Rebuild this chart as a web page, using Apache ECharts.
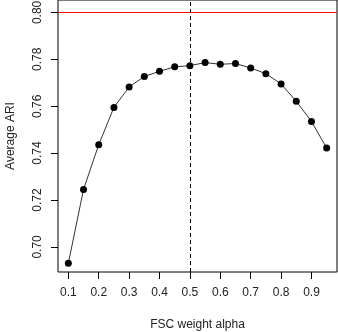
<!DOCTYPE html>
<html>
<head>
<meta charset="utf-8">
<script src="https://cdn.jsdelivr.net/npm/echarts@6/dist/echarts.min.js"></script>
<style>
  html, body { margin: 0; padding: 0; background: #fff; }
  #main { width: 338px; height: 332px; }
</style>
</head>
<body>
<div id="main"></div>
<script>
// FSC weight alpha vs average ARI
const alpha = [0.1, 0.15, 0.2, 0.25, 0.3, 0.35, 0.4, 0.45, 0.5, 0.55, 0.6, 0.65, 0.7, 0.75, 0.8, 0.85, 0.9, 0.95];
const ari = [0.6930, 0.7245, 0.7436, 0.7595, 0.7682, 0.7727, 0.7749, 0.7768, 0.7773, 0.7786, 0.7779, 0.7782, 0.7763, 0.7739, 0.7695, 0.7621, 0.7535, 0.7422];
const xTicks = [0.1, 0.2, 0.3, 0.4, 0.5, 0.6, 0.7, 0.8, 0.9];
const yTicks = [0.70, 0.72, 0.74, 0.76, 0.78, 0.80];
const refLine = 0.8009;   // red horizontal line
const splitAlpha = 0.5;   // dashed vertical line

const font = 'Liberation Sans, Arial, sans-serif';
const chart = echarts.init(document.getElementById('main'));

const option = {
  animation: false,
  grid: {
    left: 58, right: 1, top: 0, bottom: 60,
    outerBoundsMode: 'none',
    show: true, borderColor: '#000', borderWidth: 1
  },
  xAxis: {
    type: 'value',
    min: 0.066, max: 0.984,
    name: 'FSC weight alpha',
    nameLocation: 'middle',
    nameGap: 47,
    nameTextStyle: { fontFamily: font, fontSize: 12, color: '#222' },
    axisLine: { show: false },
    splitLine: { show: false },
    axisTick: { show: true, length: 7, lineStyle: { color: '#000' }, customValues: xTicks },
    axisLabel: {
      fontFamily: font, fontSize: 12, color: '#222', margin: 15,
      customValues: xTicks,
      formatter: v => v.toFixed(1)
    }
  },
  yAxis: {
    type: 'value',
    min: 0.6893, max: 0.8053,
    name: 'Average ARI',
    nameLocation: 'middle',
    nameGap: 41,
    nameTextStyle: { fontFamily: font, fontSize: 12, color: '#222' },
    axisLine: { show: false },
    splitLine: { show: false },
    axisTick: { show: true, length: 7, lineStyle: { color: '#000' }, customValues: yTicks },
    axisLabel: {
      fontFamily: font, fontSize: 12, color: '#222', margin: 14, rotate: 90,
      customValues: yTicks,
      formatter: v => v.toFixed(2)
    }
  },
  series: [
    {
      type: 'line',
      data: alpha.map((a, i) => [a, ari[i]]),
      symbol: 'circle',
      symbolSize: 7,
      itemStyle: { color: '#000' },
      lineStyle: { color: '#333', width: 1 },
      markLine: {
        silent: true,
        symbol: 'none',
        label: { show: false },
        data: [
          { yAxis: refLine, lineStyle: { color: '#ff0000', width: 1, type: 'solid' } },
          { xAxis: splitAlpha, lineStyle: { color: '#000', width: 1, type: [4, 3] } }
        ]
      }
    }
  ]
};

chart.setOption(option);
</script>
</body>
</html>
